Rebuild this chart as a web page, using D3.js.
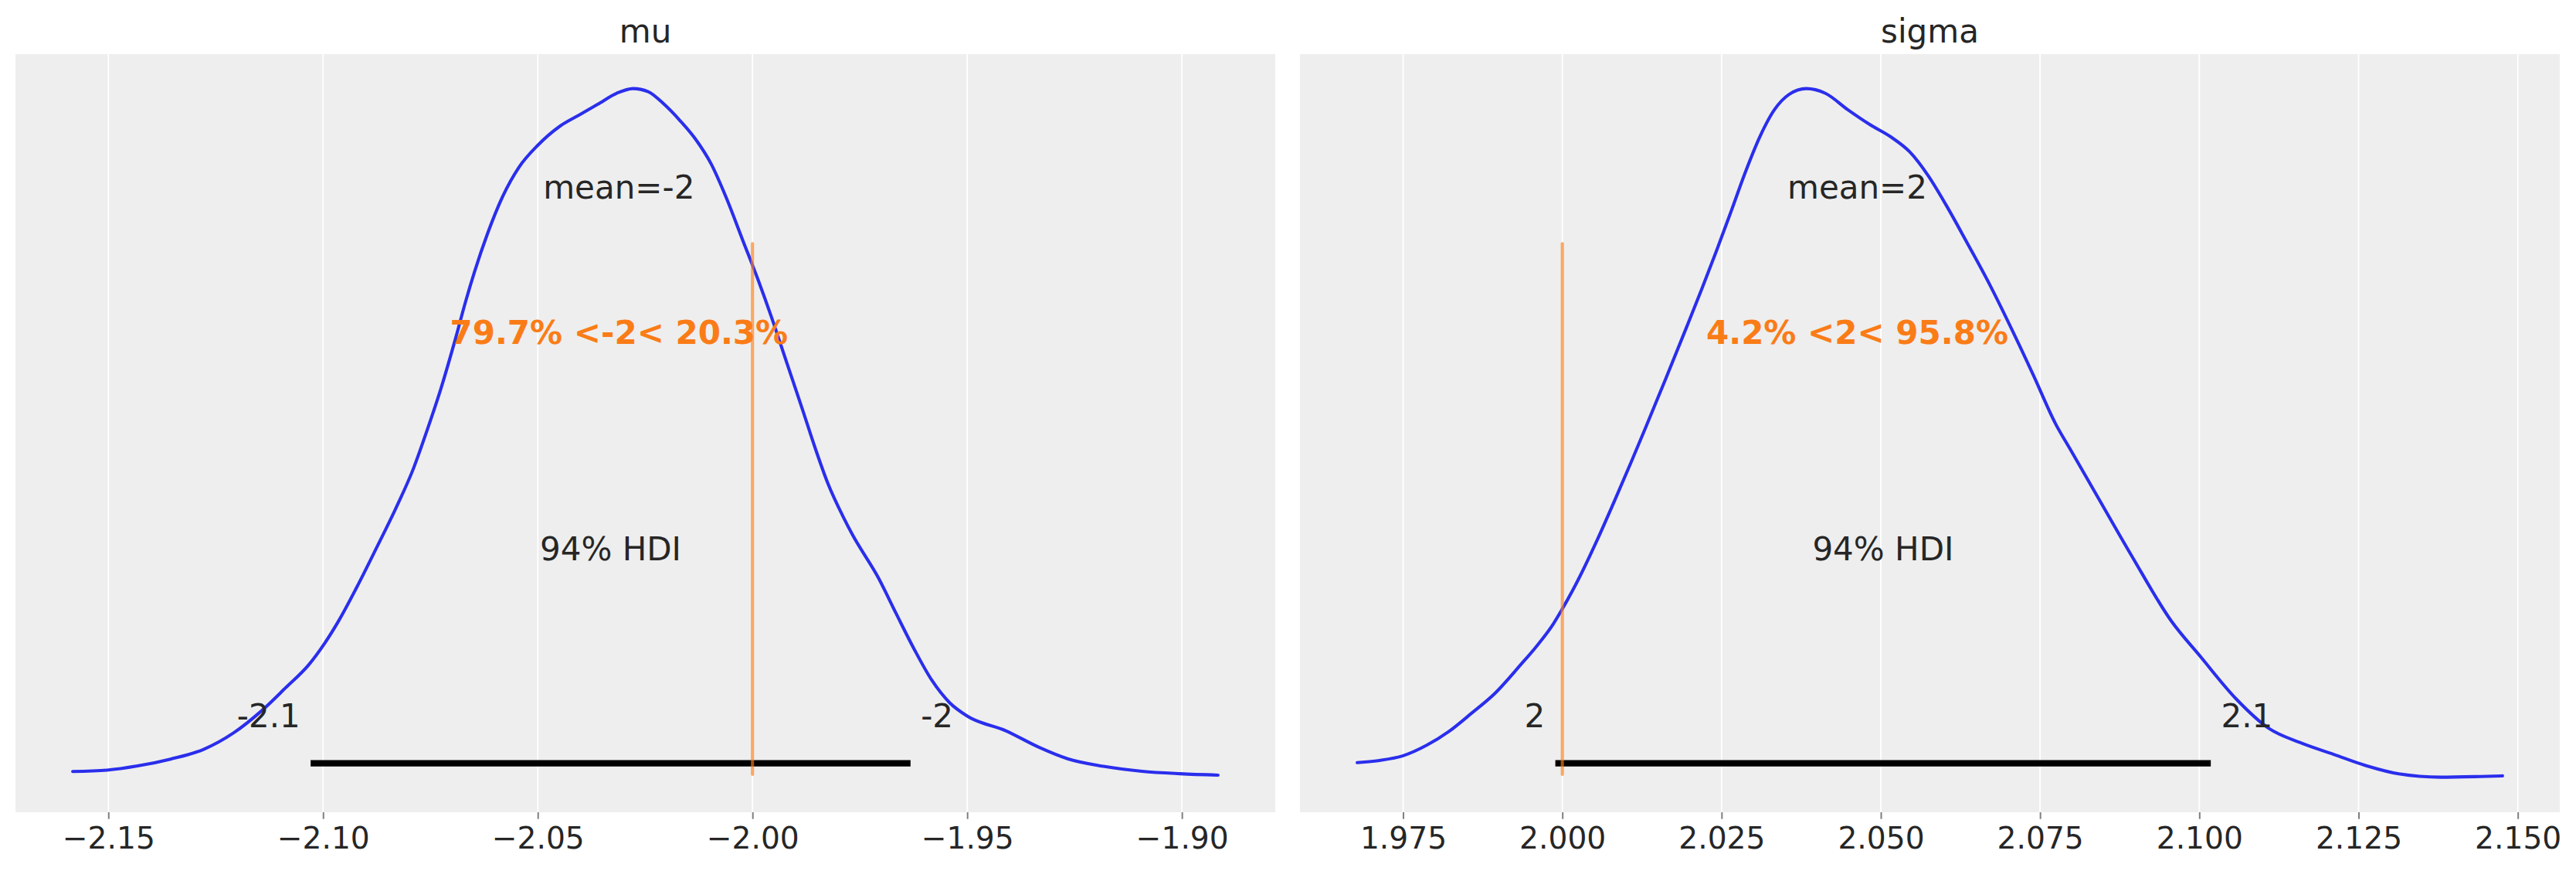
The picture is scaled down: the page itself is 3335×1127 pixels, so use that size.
<!DOCTYPE html>
<html>
<head>
<meta charset="utf-8">
<script src="https://cdn.jsdelivr.net/npm/d3@7"></script>
<style>
  body { margin: 0; background: #ffffff; }
  svg { display: block; }
  text { font-family: "DejaVu Sans", sans-serif; }
</style>
</head>
<body>
<div id="chart"></div>
<script>
// ---- data (density normalised so the peak is 1) ----
const titles = ['mu', 'sigma'];

const muX = [-2.1583, -2.1503, -2.1432, -2.1355, -2.1278, -2.1208, -2.1143, -2.1086, -2.1034, -2.0996,
  -2.0964, -2.0919, -2.0874, -2.0829, -2.0790, -2.0758, -2.0726, -2.0691, -2.0669, -2.0647,
  -2.0617, -2.0581, -2.0544, -2.0500, -2.0449, -2.0405, -2.0360, -2.0316, -2.0278, -2.0243,
  -2.0206, -2.0170, -2.0133, -2.0096, -2.0060, -2.0023, -1.9986, -1.9957, -1.9920, -1.9883,
  -1.9854, -1.9825, -1.9788, -1.9768, -1.9706, -1.9665, -1.9623, -1.9582, -1.9541, -1.9500,
  -1.9410, -1.9334, -1.9265, -1.9183, -1.9093, -1.9004, -1.8916];
const muDensity = [0.0092, 0.0112, 0.0172, 0.0272, 0.0413, 0.0653, 0.0973, 0.1313, 0.1634, 0.1954,
  0.2274, 0.2795, 0.3356, 0.3930, 0.4480, 0.5038, 0.5638, 0.6386, 0.6889, 0.7347,
  0.7896, 0.8445, 0.8857, 0.9177, 0.9452, 0.9612, 0.9773, 0.9933, 1.0000, 0.9955,
  0.9773, 0.9544, 0.9269, 0.8903, 0.8400, 0.7804, 0.7209, 0.6706, 0.6019, 0.5333,
  0.4784, 0.4280, 0.3777, 0.3536, 0.2892, 0.2377, 0.1861, 0.1412, 0.1090, 0.0896,
  0.0682, 0.0446, 0.0274, 0.0167, 0.0094, 0.0059, 0.0038];

const sigmaX = [1.9678, 1.9713, 1.9750, 1.9787, 1.9822, 1.9857, 1.9895, 1.9934, 1.9960, 1.9986,
  1.9999, 2.0025, 2.0056, 2.0082, 2.0108, 2.0130, 2.0161, 2.0196, 2.0219, 2.0242,
  2.0265, 2.0287, 2.0310, 2.0333, 2.0356, 2.0383, 2.0413, 2.0448, 2.0482, 2.0516,
  2.0545, 2.0574, 2.0602, 2.0637, 2.0671, 2.0705, 2.0740, 2.0774, 2.0797, 2.0838,
  2.0894, 2.0956, 2.1002, 2.1058, 2.1109, 2.1160, 2.1211, 2.1262, 2.1313, 2.1379,
  2.1441, 2.1476];
const sigmaDensity = [0.0220, 0.0252, 0.0320, 0.0472, 0.0673, 0.0933, 0.1233, 0.1634, 0.1914, 0.2235,
  0.2434, 0.2875, 0.3476, 0.4020, 0.4580, 0.5065, 0.5760, 0.6560, 0.7095, 0.7645,
  0.8220, 0.8780, 0.9300, 0.9694, 0.9916, 1.0000, 0.9931, 0.9694, 0.9482, 0.9297,
  0.9085, 0.8741, 0.8318, 0.7736, 0.7154, 0.6518, 0.5831, 0.5142, 0.4772, 0.4115,
  0.3218, 0.2275, 0.1756, 0.1143, 0.0718, 0.0505, 0.0340, 0.0175, 0.0057, 0.0009,
  0.0019, 0.0028];

const muHdi = [-2.1029, -1.9632];
const sigmaHdi = [1.9989, 2.1018];
const muHdiLabels = ['-2.1', '-2'];
const sigmaHdiLabels = ['2', '2.1'];
const means = [-2.0311, 2.0463];
const meanLabels = ['mean=-2', 'mean=2'];
const refValues = [-2, 2];
const refLabels = ['79.7% <-2< 20.3%', '4.2% <2< 95.8%'];
const hdiText = '94% HDI';

const muTicks = [-2.15, -2.10, -2.05, -2.00, -1.95, -1.90];
const sigmaTicks = [1.975, 2.000, 2.025, 2.050, 2.075, 2.100, 2.125, 2.150];
const tickFormats = ['.2f', '.3f'];

// ---- layout ----
const W = 3335, H = 1127;
const panelLeft = [20, 1683];
const panelW = 1631;
const panelTop = 70;
const panelH = 981;
const textSize = 42;
const tickSize = 39.2;
const lw = 4.1;
const blue = '#2a2eec';
const orange = '#fa7c17';
const ink = '#262626';

const svg = d3.select('#chart')
  .append('svg')
  .attr('width', W)
  .attr('height', H)
  .attr('viewBox', [0, 0, W, H]);

svg.append('rect').attr('width', W).attr('height', H).attr('fill', '#ffffff');

const panels = [
  { x: muX, d: muDensity, hdi: muHdi, hdiLabels: muHdiLabels, ticks: muTicks },
  { x: sigmaX, d: sigmaDensity, hdi: sigmaHdi, hdiLabels: sigmaHdiLabels, ticks: sigmaTicks }
];

panels.forEach((p, i) => {
  const g = svg.append('g')
    .attr('transform', `translate(${panelLeft[i]},${panelTop})`);

  // x limits: data range with 5% margins, y from 0 to the peak with 5% margins
  const [xmin, xmax] = d3.extent(p.x);
  const xpad = (xmax - xmin) * 0.05;
  const x = d3.scaleLinear().domain([xmin - xpad, xmax + xpad]).range([0, panelW]);
  const dmax = d3.max(p.d);
  const y = d3.scaleLinear().domain([-0.05 * dmax, 1.05 * dmax]).range([panelH, 0]);
  const plotHeight = y.domain()[1];

  g.append('rect')
    .attr('width', panelW)
    .attr('height', panelH)
    .attr('fill', '#eeeeee');

  // vertical grid
  g.selectAll('line.grid')
    .data(p.ticks)
    .join('line')
    .attr('class', 'grid')
    .attr('x1', d => x(d)).attr('x2', d => x(d))
    .attr('y1', 0).attr('y2', panelH)
    .attr('stroke', '#ffffff')
    .attr('stroke-width', 1.8);

  // x axis
  const axis = d3.axisBottom(x)
    .tickValues(p.ticks)
    .tickFormat(d3.format(tickFormats[i]))
    .tickSizeInner(8.7)
    .tickSizeOuter(0)
    .tickPadding(10.9);
  const ax = g.append('g')
    .attr('transform', `translate(0,${panelH})`)
    .call(axis);
  ax.select('.domain').remove();
  ax.selectAll('.tick line').attr('stroke', '#7f7f7f').attr('stroke-width', 2);
  ax.selectAll('.tick text')
    .attr('fill', ink)
    .style('font-size', `${tickSize}px`)
    .style('font-family', '"DejaVu Sans"');

  // title
  svg.append('text')
    .attr('x', panelLeft[i] + panelW / 2)
    .attr('y', 55)
    .attr('text-anchor', 'middle')
    .attr('fill', ink)
    .style('font-size', `${textSize}px`)
    .text(titles[i]);

  // kde line
  const line = d3.line()
    .x((d, k) => x(p.x[k]))
    .y(d => y(d))
    .curve(d3.curveMonotoneX);
  g.append('path')
    .datum(p.d)
    .attr('d', line)
    .attr('fill', 'none')
    .attr('stroke', blue)
    .attr('stroke-width', lw)
    .attr('stroke-linecap', 'round')
    .attr('stroke-linejoin', 'round');

  // hdi bar and labels
  g.append('line')
    .attr('x1', x(p.hdi[0])).attr('x2', x(p.hdi[1]))
    .attr('y1', y(plotHeight * 0.02)).attr('y2', y(plotHeight * 0.02))
    .attr('stroke', '#000000')
    .attr('stroke-width', lw * 2)
    .attr('stroke-linecap', 'butt');

  g.append('text')
    .attr('x', x(p.hdi[0]))
    .attr('y', y(plotHeight * 0.07))
    .attr('text-anchor', 'end')
    .attr('fill', ink)
    .style('font-size', `${textSize}px`)
    .style('white-space', 'pre')
    .text(p.hdiLabels[0] + ' ');

  g.append('text')
    .attr('x', x(p.hdi[1]))
    .attr('y', y(plotHeight * 0.07))
    .attr('text-anchor', 'start')
    .attr('fill', ink)
    .style('font-size', `${textSize}px`)
    .style('white-space', 'pre')
    .text(' ' + p.hdiLabels[1]);

  g.append('text')
    .attr('x', x((p.hdi[0] + p.hdi[1]) / 2))
    .attr('y', y(plotHeight * 0.3))
    .attr('text-anchor', 'middle')
    .attr('fill', ink)
    .style('font-size', `${textSize}px`)
    .text(hdiText);

  // mean
  g.append('text')
    .attr('x', x(means[i]))
    .attr('y', y(plotHeight * 0.8))
    .attr('text-anchor', 'middle')
    .attr('fill', ink)
    .style('font-size', `${textSize}px`)
    .text(meanLabels[i]);

  // reference value
  g.append('line')
    .attr('x1', x(refValues[i])).attr('x2', x(refValues[i]))
    .attr('y1', panelH * (1 - 0.05)).attr('y2', panelH * (1 - 0.75))
    .attr('stroke', orange)
    .attr('stroke-opacity', 0.65)
    .attr('stroke-width', lw)
    .attr('stroke-linecap', 'round');

  g.append('text')
    .attr('x', x(means[i]))
    .attr('y', y(plotHeight * 0.6))
    .attr('text-anchor', 'middle')
    .attr('fill', orange)
    .style('font-size', `${textSize}px`)
    .style('font-weight', 'bold')
    .text(refLabels[i]);
});
</script>
</body>
</html>
